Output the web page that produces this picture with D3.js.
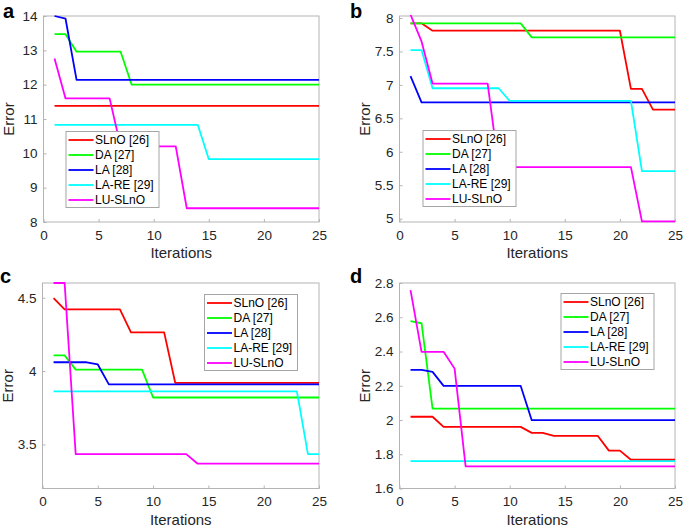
<!DOCTYPE html>
<html><head><meta charset="utf-8">
<script src="https://cdn.jsdelivr.net/npm/d3@7"></script>
<style>body{margin:0;background:#fff}svg{display:block;font-family:"Liberation Sans",Arial,sans-serif}</style>
</head><body><svg id="c" width="685" height="528"></svg>
<script>
const iterations = [1,2,3,4,5,6,7,8,9,10,11,12,13,14,15,16,17,18,19,20,21,22,23,24,25];
const seriesNames = ["SLnO [26]","DA [27]","LA [28]","LA-RE [29]","LU-SLnO"];
const seriesColors = ["#ff0000","#00ff00","#0000ff","#00ffff","#ff00ff"];
const xTicks = [0,5,10,15,20,25];

// Panel a
const slnoA = [11.38,11.38,11.38,11.38,11.38,11.38,11.38,11.38,11.38,11.38,11.38,11.38,11.38,11.38,11.38,11.38,11.38,11.38,11.38,11.38,11.38,11.38,11.38,11.38,11.38];
const daA   = [13.47,13.47,12.96,12.96,12.96,12.96,12.96,12.0,12.0,12.0,12.0,12.0,12.0,12.0,12.0,12.0,12.0,12.0,12.0,12.0,12.0,12.0,12.0,12.0,12.0];
const laA   = [14.0,13.92,12.14,12.14,12.14,12.14,12.14,12.14,12.14,12.14,12.14,12.14,12.14,12.14,12.14,12.14,12.14,12.14,12.14,12.14,12.14,12.14,12.14,12.14,12.14];
const lareA = [10.83,10.83,10.83,10.83,10.83,10.83,10.83,10.83,10.83,10.83,10.83,10.83,10.83,10.83,9.83,9.83,9.83,9.83,9.83,9.83,9.83,9.83,9.83,9.83,9.83];
const luA   = [12.76,11.6,11.6,11.6,11.6,11.6,10.2,10.2,10.2,10.2,10.2,10.2,8.4,8.4,8.4,8.4,8.4,8.4,8.4,8.4,8.4,8.4,8.4,8.4,8.4];
const yTicksA = [8,9,10,11,12,13,14];

// Panel b
const slnoB = [7.92,7.92,7.81,7.81,7.81,7.81,7.81,7.81,7.81,7.81,7.81,7.81,7.81,7.81,7.81,7.81,7.81,7.81,7.81,7.81,6.94,6.94,6.63,6.63,6.63];
const daB   = [7.92,7.92,7.92,7.92,7.92,7.92,7.92,7.92,7.92,7.92,7.92,7.71,7.71,7.71,7.71,7.71,7.71,7.71,7.71,7.71,7.71,7.71,7.71,7.71,7.71];
const laB   = [7.13,6.74,6.74,6.74,6.74,6.74,6.74,6.74,6.74,6.74,6.74,6.74,6.74,6.74,6.74,6.74,6.74,6.74,6.74,6.74,6.74,6.74,6.74,6.74,6.74];
const lareB = [7.52,7.52,6.95,6.95,6.95,6.95,6.95,6.95,6.95,6.76,6.76,6.76,6.76,6.76,6.76,6.76,6.76,6.76,6.76,6.76,6.76,5.71,5.71,5.71,5.71];
const luB   = [8.05,7.65,7.02,7.02,7.02,7.02,7.02,7.02,5.77,5.77,5.77,5.77,5.77,5.77,5.77,5.77,5.77,5.77,5.77,5.77,5.77,4.96,4.96,4.96,4.96];
const yTicksB = [5,5.5,6,6.5,7,7.5,8];

// Panel c
const slnoC = [4.497,4.42,4.42,4.42,4.42,4.42,4.42,4.264,4.264,4.264,4.264,3.92,3.92,3.92,3.92,3.92,3.92,3.92,3.92,3.92,3.92,3.92,3.92,3.92,3.92];
const daC   = [4.107,4.107,4.01,4.01,4.01,4.01,4.01,4.01,4.01,3.82,3.82,3.82,3.82,3.82,3.82,3.82,3.82,3.82,3.82,3.82,3.82,3.82,3.82,3.82,3.82];
const laC   = [4.06,4.06,4.06,4.06,4.045,3.909,3.909,3.909,3.909,3.909,3.909,3.909,3.909,3.909,3.909,3.909,3.909,3.909,3.909,3.909,3.909,3.909,3.909,3.909,3.909];
const lareC = [3.862,3.862,3.862,3.862,3.862,3.862,3.862,3.862,3.862,3.862,3.862,3.862,3.862,3.862,3.862,3.862,3.862,3.862,3.862,3.862,3.862,3.862,3.862,3.434,3.434];
const luC   = [4.6,4.6,3.434,3.434,3.434,3.434,3.434,3.434,3.434,3.434,3.434,3.434,3.434,3.37,3.37,3.37,3.37,3.37,3.37,3.37,3.37,3.37,3.37,3.37,3.37];
const yTicksC = [3.5,4,4.5];

// Panel d
const slnoD = [2.019,2.019,2.019,1.96,1.96,1.96,1.96,1.96,1.96,1.96,1.96,1.925,1.925,1.907,1.907,1.907,1.907,1.907,1.821,1.821,1.768,1.768,1.768,1.768,1.768];
const daD   = [2.578,2.565,2.066,2.066,2.066,2.066,2.066,2.066,2.066,2.066,2.066,2.066,2.066,2.066,2.066,2.066,2.066,2.066,2.066,2.066,2.066,2.066,2.066,2.066,2.066];
const laD   = [2.293,2.293,2.281,2.199,2.199,2.199,2.199,2.199,2.199,2.199,2.199,1.999,1.999,1.999,1.999,1.999,1.999,1.999,1.999,1.999,1.999,1.999,1.999,1.999,1.999];
const lareD = [1.76,1.76,1.76,1.76,1.76,1.76,1.76,1.76,1.76,1.76,1.76,1.76,1.76,1.76,1.76,1.76,1.76,1.76,1.76,1.76,1.76,1.76,1.76,1.76,1.76];
const luD   = [2.758,2.398,2.398,2.398,2.30,1.729,1.729,1.729,1.729,1.729,1.729,1.729,1.729,1.729,1.729,1.729,1.729,1.729,1.729,1.729,1.729,1.729,1.729,1.729,1.729];
const yTicksD = [1.6,1.8,2.0,2.2,2.4,2.6,2.8];
const yTickLabelsD = ["1.6","1.8","2","2.2","2.4","2.6","2.8"];

const panels = [
  {letter:"a", box:[43.5,16,319,222], ydom:[8,14], yticks:yTicksA, ylabels:yTicksA.map(String), series:[slnoA,daA,laA,lareA,luA], legend:[66,131.5], lx:3, ly:18},
  {letter:"b", box:[399.5,16,675,222], ydom:[4.95,8.03], yticks:yTicksB, ylabels:yTicksB.map(String), series:[slnoB,daB,laB,lareB,luB], legend:[423,130.5], lx:350, ly:17.5},
  {letter:"c", box:[42.5,283,319,488.5], ydom:[3.2,4.6], yticks:yTicksC, ylabels:yTicksC.map(String), series:[slnoC,daC,laC,lareC,luC], legend:[204.5,294.5], lx:0, ly:283},
  {letter:"d", box:[399.5,283,675,488.5], ydom:[1.6,2.8], yticks:yTicksD, ylabels:yTickLabelsD, series:[slnoD,daD,laD,lareD,luD], legend:[561,293.5], lx:350, ly:283}
];

const svg = d3.select("#c");
const axisColor = "#b4b4b4";
const textColor = "#262626";

panels.forEach((p,pi)=>{
  const [x0,y0,x1,y1] = p.box;
  const x = d3.scaleLinear().domain([0,25]).range([x0,x1]);
  const y = d3.scaleLinear().domain(p.ydom).range([y1,y0]);
  const g = svg.append("g");
  const clipId = "clip"+pi;
  svg.append("clipPath").attr("id",clipId).append("rect")
    .attr("x",x0).attr("y",y0-1).attr("width",x1-x0).attr("height",y1-y0+2);

  // axes
  const xa = g.append("g").attr("transform",`translate(0,${y1})`)
    .call(d3.axisBottom(x).tickValues(xTicks).tickSizeInner(-3).tickSizeOuter(0).tickPadding(8));
  const ya = g.append("g").attr("transform",`translate(${x0},0)`)
    .call(d3.axisLeft(y).tickValues(p.yticks).tickFormat((d,i)=>p.ylabels[i]).tickSizeInner(-3).tickSizeOuter(0).tickPadding(6));
  [xa,ya].forEach(a=>{
    a.select(".domain").remove();
    a.selectAll(".tick line").attr("stroke",axisColor);
    a.selectAll(".tick text").attr("fill",textColor).style("font-size","13.5px").style("font-family","'Liberation Sans',Arial,sans-serif");
  });
  g.append("rect").attr("x",x0).attr("y",y0).attr("width",x1-x0).attr("height",y1-y0)
    .attr("fill","none").attr("stroke",axisColor).attr("stroke-width",1);

  // lines
  const line = d3.line().x((d,i)=>x(iterations[i])).y(d=>y(d));
  const lg = g.append("g").attr("clip-path",`url(#${clipId})`);
  p.series.forEach((s,si)=>{
    lg.append("path").datum(s).attr("d",line).attr("fill","none")
      .attr("stroke",seriesColors[si]).attr("stroke-width",1.8).attr("stroke-linejoin","round");
  });

  // labels
  g.append("text").attr("x",(x0+x1)/2).attr("y",y1+36).attr("text-anchor","middle")
    .attr("fill",textColor).style("font-size","15px").text("Iterations");
  g.append("text").attr("transform",`translate(${x0-30},${(y0+y1)/2}) rotate(-90)`)
    .attr("text-anchor","middle").attr("fill",textColor).style("font-size","15px").text("Error");
  g.append("text").attr("x",p.lx).attr("y",p.ly).attr("font-weight","bold")
    .attr("fill","#000").style("font-size","20px").text(p.letter);

  // legend
  const [lx,ly] = p.legend;
  const leg = g.append("g").attr("transform",`translate(${lx},${ly})`);
  leg.append("rect").attr("x",0).attr("y",0).attr("width",93).attr("height",76)
    .attr("fill","#fff").attr("stroke","#a6a6a6").attr("stroke-width",1);
  seriesNames.forEach((n,i)=>{
    const yy = 8.5 + i*15;
    leg.append("line").attr("x1",2.5).attr("x2",27.5).attr("y1",yy).attr("y2",yy)
      .attr("stroke",seriesColors[i]).attr("stroke-width",1.8);
    leg.append("text").attr("x",29).attr("y",yy+4.2).attr("fill","#000")
      .style("font-size","12px").text(n);
  });
});
</script></body></html>
